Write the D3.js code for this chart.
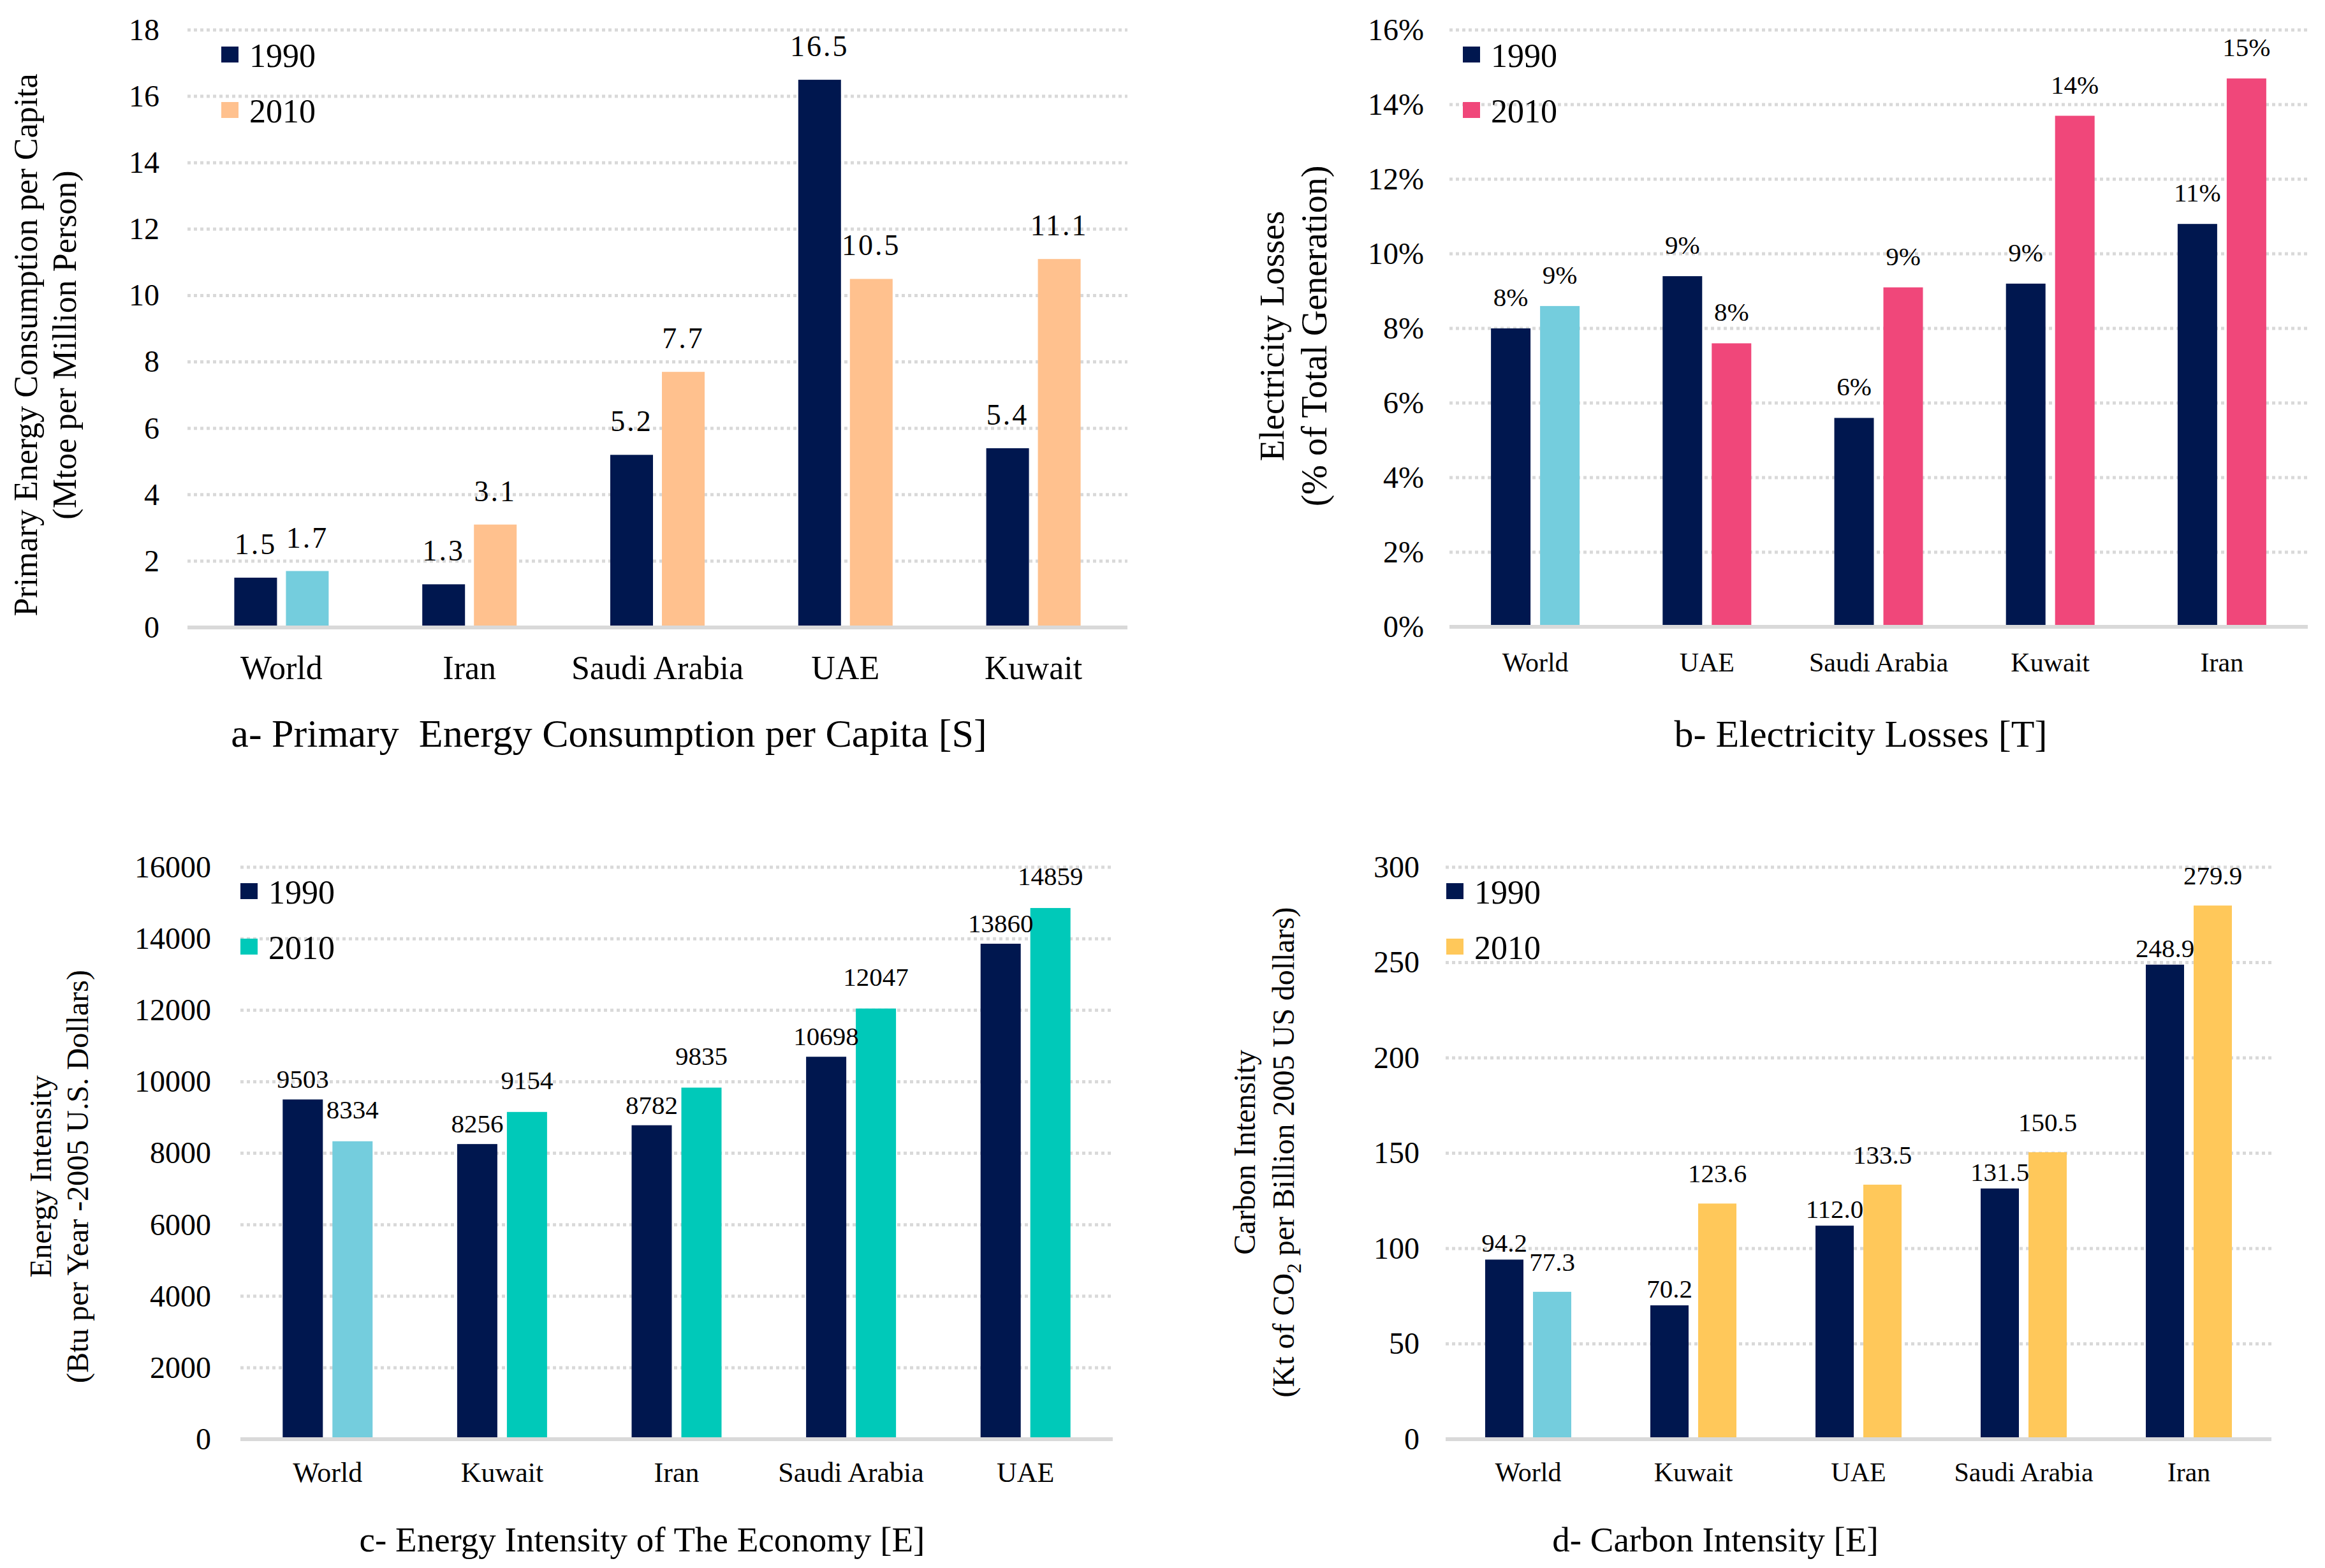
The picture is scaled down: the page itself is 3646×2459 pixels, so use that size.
<!DOCTYPE html>
<html>
<head>
<meta charset="utf-8">
<script src="https://cdn.jsdelivr.net/npm/d3@7"></script>
<style>
body { margin: 0; background: #fff; }
text { font-family: "Liberation Serif", "Times New Roman", serif; fill: #000; }
</style>
</head>
<body>
<script>
var width = 3646, height = 2459;

var years = ["1990", "2010"];

// a- primary energy consumption per capita
var catsA = ["World", "Iran", "Saudi Arabia", "UAE", "Kuwait"];
var a1990 = [1.5, 1.3, 5.2, 16.5, 5.4];
var a2010 = [1.7, 3.1, 7.7, 10.5, 11.1];
var ticksA = [0, 2, 4, 6, 8, 10, 12, 14, 16, 18];

// b- electricity losses (%)
var catsB = ["World", "UAE", "Saudi Arabia", "Kuwait", "Iran"];
var b1990 = [8.0, 9.4, 5.6, 9.2, 10.8];
var b2010 = [8.6, 7.6, 9.1, 13.7, 14.7];
var ticksB = [0, 2, 4, 6, 8, 10, 12, 14, 16];

// c- energy intensity
var catsC = ["World", "Kuwait", "Iran", "Saudi Arabia", "UAE"];
var c1990 = [9503, 8256, 8782, 10698, 13860];
var c2010 = [8334, 9154, 9835, 12047, 14859];
var ticksC = [0, 2000, 4000, 6000, 8000, 10000, 12000, 14000, 16000];

// d- carbon intensity
var catsD = ["World", "Kuwait", "UAE", "Saudi Arabia", "Iran"];
var d1990 = [94.2, 70.2, 112.0, 131.5, 248.9];
var d2010 = [77.3, 123.6, 133.5, 150.5, 279.9];
var ticksD = [0, 50, 100, 150, 200, 250, 300];

var navy = "#00174f", worldBlue = "#74cddd", gridCol = "#d9d9d9";

var svg = d3.select("body").append("svg")
    .attr("width", width)
    .attr("height", height);

function panel(p) {
    var g = svg.append("g");

    var x0 = d3.scaleBand().domain(p.cats).range([p.left, p.right]);
    var half = p.bar + p.gap / 2;
    var x1 = d3.scaleBand().domain(years)
        .range([x0.bandwidth() / 2 - half, x0.bandwidth() / 2 + half])
        .paddingInner(p.gap / (p.bar + p.gap));
    var y = d3.scaleLinear().domain([0, d3.max(p.ticks)]).range([p.bottom, p.top]);

    // gridlines
    g.selectAll(".grid")
        .data(p.ticks.filter(function (t) { return t > 0; }))
        .enter().append("line")
        .attr("x1", p.left).attr("x2", p.right)
        .attr("y1", function (d) { return y(d); })
        .attr("y2", function (d) { return y(d); })
        .attr("stroke", gridCol)
        .attr("stroke-width", 5)
        .attr("stroke-dasharray", "5,5");

    // y axis labels
    var ya = g.append("g")
        .attr("transform", "translate(" + p.left + ",0)")
        .call(d3.axisLeft(y).tickValues(p.ticks).tickSize(0).tickPadding(p.tickPad).tickFormat(p.tickFmt));
    ya.select(".domain").remove();
    ya.attr("font-family", null).attr("font-size", p.tickSize);

    // bars
    var rows = p.cats.map(function (c, i) {
        return [{cat: c, year: "1990", v: p.s1[i]}, {cat: c, year: "2010", v: p.s2[i]}];
    });
    var grp = g.selectAll(".cat")
        .data(rows)
        .enter().append("g")
        .attr("transform", function (d) { return "translate(" + x0(d[0].cat) + ",0)"; });

    grp.selectAll("rect")
        .data(function (d) { return d; })
        .enter().append("rect")
        .attr("x", function (d) { return x1(d.year); })
        .attr("y", function (d) { return y(d.v); })
        .attr("width", x1.bandwidth())
        .attr("height", function (d) { return y(0) - y(d.v); })
        .attr("fill", function (d) {
            if (d.year == "1990") return navy;
            return d.cat == "World" ? worldBlue : p.color;
        });

    grp.selectAll(".lbl")
        .data(function (d) { return d; })
        .enter().append("text")
        .attr("x", function (d) { return x1(d.year) + x1.bandwidth() / 2; })
        .attr("y", function (d) { return y(d.v) - p.lblOff[d.year == "1990" ? 0 : 1]; })
        .attr("text-anchor", "middle")
        .attr("font-size", p.lblSize)
        .attr("letter-spacing", p.lblSpace)
        .text(function (d) { return p.lblFmt(d.v); });

    // baseline
    g.append("line")
        .attr("x1", p.left).attr("x2", p.right)
        .attr("y1", y(0)).attr("y2", y(0))
        .attr("stroke", gridCol)
        .attr("stroke-width", 6);

    // category axis
    var xa = g.append("g")
        .attr("transform", "translate(0," + p.bottom + ")")
        .call(d3.axisBottom(x0).tickSize(0).tickPadding(p.catPad));
    xa.select(".domain").remove();
    xa.attr("font-family", null).attr("font-size", p.catSize);

    // legend
    years.forEach(function (yr, i) {
        var ly = p.legY + i * 87;
        g.append("rect")
            .attr("x", p.legX).attr("y", ly)
            .attr("width", 27).attr("height", 25)
            .attr("fill", i == 0 ? navy : p.color);
        g.append("text")
            .attr("x", p.legX + 44).attr("y", ly + 14)
            .attr("dominant-baseline", "central")
            .attr("font-size", 52)
            .text(yr);
    });

    // y title
    p.yTitle.forEach(function (line, i) {
        var t = g.append("text")
            .attr("transform", "translate(" + p.yTitleX[i] + "," + p.yTitleY + ") rotate(-90)")
            .attr("text-anchor", "middle")
            .attr("dominant-baseline", "central")
            .attr("font-size", p.yTitleSize[i]);
        if (Array.isArray(line)) {
            line.forEach(function (part) {
                var ts = t.append("tspan").text(part.t);
                if (part.sub) ts.attr("baseline-shift", "sub").attr("font-size", "65%");
            });
        } else {
            t.text(line);
        }
    });

    // panel caption
    g.append("text")
        .attr("x", p.titleX).attr("y", p.titleY)
        .attr("text-anchor", "middle")
        .attr("font-size", p.titleSize)
        .attr("xml:space", "preserve")
        .text(p.title);
}

panel({
    cats: catsA, s1: a1990, s2: a2010, ticks: ticksA, color: "#ffc18e",
    left: 294, right: 1768, top: 47, bottom: 984, bar: 67, gap: 14,
    tickPad: 44, tickSize: 48, tickFmt: d3.format("d"),
    catPad: 44, catSize: 52,
    lblSize: 46, lblSpace: 3, lblOff: [37, 37], lblFmt: d3.format(".1f"),
    legX: 347, legY: 73,
    yTitle: ["Primary Energy Consumption per Capita", "(Mtoe per Million Person)"],
    yTitleX: [40, 101], yTitleY: 541, yTitleSize: [52, 52],
    title: "a- Primary  Energy Consumption per Capita [S]", titleX: 955, titleY: 1171, titleSize: 62
});

panel({
    cats: catsB, s1: b1990, s2: b2010, ticks: ticksB, color: "#f0477a",
    left: 2273, right: 3619, top: 47, bottom: 983, bar: 62, gap: 15,
    tickPad: 40, tickSize: 48, tickFmt: function (d) { return d + "%"; },
    catPad: 40, catSize: 42,
    lblSize: 41, lblSpace: 0, lblOff: [35, 35], lblFmt: function (d) { return Math.round(d) + "%"; },
    legX: 2294, legY: 73,
    yTitle: ["Electricity  Losses", "(% of Total Generation)"],
    yTitleX: [1994, 2061], yTitleY: 527, yTitleSize: [55, 56],
    title: "b- Electricity Losses [T]", titleX: 2918, titleY: 1171, titleSize: 60
});

panel({
    cats: catsC, s1: c1990, s2: c2010, ticks: ticksC, color: "#00c9b9",
    left: 377, right: 1745, top: 1360, bottom: 2257, bar: 63, gap: 15,
    tickPad: 46, tickSize: 48, tickFmt: d3.format("d"),
    catPad: 36, catSize: 44,
    lblSize: 41, lblSpace: 0, lblOff: [18, 36], lblFmt: d3.format("d"),
    legX: 377, legY: 1385,
    yTitle: ["Energy Intensity", "(Btu per Year -2005 U.S. Dollars)"],
    yTitleX: [63, 121], yTitleY: 1845, yTitleSize: [48, 48],
    title: "c- Energy Intensity of The Economy [E]", titleX: 1007, titleY: 2433, titleSize: 55
});

panel({
    cats: catsD, s1: d1990, s2: d2010, ticks: ticksD, color: "#ffc85a",
    left: 2267, right: 3562, top: 1360, bottom: 2257, bar: 60, gap: 15,
    tickPad: 41, tickSize: 48, tickFmt: d3.format("d"),
    catPad: 36, catSize: 42,
    lblSize: 41, lblSpace: 0, lblOff: [12, 33], lblFmt: d3.format(".1f"),
    legX: 2268, legY: 1385,
    yTitle: ["Carbon Intensity", [{t: "(Kt of CO"}, {t: "2", sub: true}, {t: " per Billion 2005 US dollars)"}]],
    yTitleX: [1951, 2012], yTitleY: 1807, yTitleSize: [48, 48],
    title: "d- Carbon Intensity [E]", titleX: 2690, titleY: 2433, titleSize: 55
});
</script>
</body>
</html>
